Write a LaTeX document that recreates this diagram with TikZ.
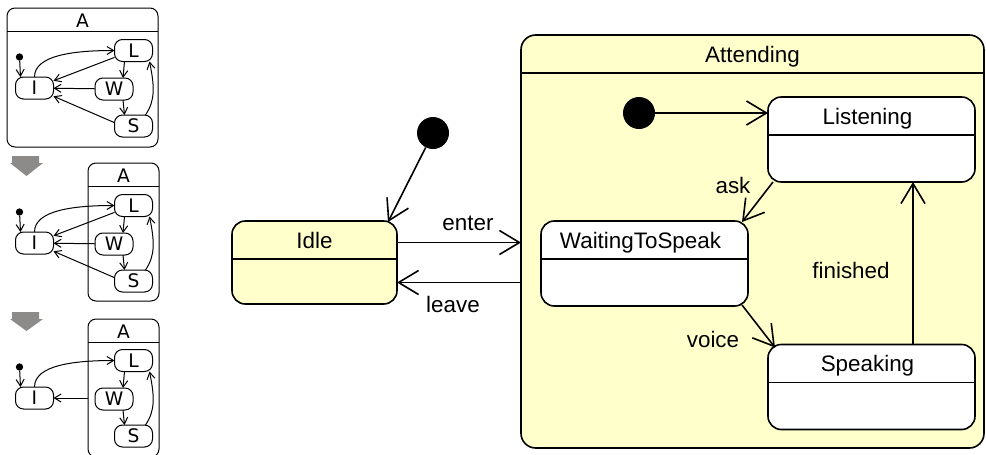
\documentclass[tikz,border=0pt]{standalone}
\usepackage{fontspec}
\setmainfont{Liberation Sans}
\newfontfamily\thumbfont{DejaVu Sans}
\usetikzlibrary{arrows.meta,calc}
\definecolor{stateyellow}{RGB}{255,255,204}
\definecolor{arrowgray}{RGB}{141,139,137}

\begin{document}
\begin{tikzpicture}[x=0.75pt,y=0.75pt,yscale=-1,xscale=1,
  statebox/.style={draw,line width=1.2pt,rounded corners=10pt,fill=stateyellow,inner sep=0pt,outer sep=0pt},
  substate/.style={statebox,fill=white,minimum width=155.25pt,minimum height=63.75pt},
  initdot/.style={circle,fill=black,inner sep=0pt,minimum size=24pt},
  trans/.style={line width=1.2pt,-{Straight Barb[length=15pt,width=18pt]}},
  sep/.style={line width=1.2pt},
  ttl/.style={anchor=base,inner sep=0pt,font=\fontsize{16.8}{20}\selectfont},
  lbl/.style={ttl},
  minibox/.style={draw,line width=0.75pt,rounded corners=6pt,inner sep=0pt,outer sep=0pt},
  ministate/.style={minibox,rounded corners=6pt,minimum width=28.5pt,minimum height=16.5pt,font=\thumbfont\fontsize{14}{16}\selectfont},
  minittl/.style={inner sep=0pt,font=\thumbfont\fontsize{14}{16}\selectfont},
  minidot/.style={circle,fill=black,inner sep=0pt,minimum size=5.5pt},
  minitr/.style={line width=0.75pt,-{Straight Barb[length=5pt,width=6pt]}},
  minisep/.style={line width=0.75pt}]
\useasboundingbox (0,0) rectangle (986,454);

% overview, step 1
\node[minibox,minimum width=113.25pt,minimum height=104.25pt] (a1) at (82.5,77.5) {};
\node[minittl] (a1T) at ($(a1.north)+(0,13)$) {A};
\draw[minisep] ($(a1.north west)+(0,23)$) -- ($(a1.north east)+(0,23)$);
\node[minidot] (d1) at (19.5,57) {};
\node[ministate] (i1) at (34.5,88) {I};
\node[ministate] (l1) at (133.5,50.5) {L};
\node[ministate] (w1) at (114,89) {W};
\node[ministate] (s1) at (133.5,126) {S};
\draw[minitr] (d1) -- ($(i1.north west)+(5,0)$);
\draw[minitr] (i1.north) .. controls +(0,-22) and +(-40,0) .. (l1.west);
\draw[minitr] (l1.200) -- (i1);
\draw[minitr] (w1) -- (i1);
\draw[minitr] (s1.170) -- (i1);
\draw[minitr] ($(l1.south)+(-9,0)$) -- ($(w1.north)+(9,0)$);
\draw[minitr] ($(w1.south)+(9,0)$) -- ($(s1.north)+(-9,0)$);
\draw[minitr] ($(s1.north)+(12,0)$) .. controls +(10,-15) and +(5,25) .. ($(l1.south)+(16,0)$);

\fill[arrowgray] (12,156) -- (39,156) -- (39,163) -- (43,163) -- (26.5,176) -- (10,163) -- (12,163) -- cycle;

% overview, step 2
\node[minibox,minimum width=53.25pt,minimum height=103.5pt] (a2) at (123.5,232) {};
\node[minittl] (a2T) at ($(a2.north)+(0,13)$) {A};
\draw[minisep] ($(a2.north west)+(0,23)$) -- ($(a2.north east)+(0,23)$);
\node[minidot] (d2) at (19.5,212) {};
\node[ministate] (i2) at (34.5,243) {I};
\node[ministate] (l2) at (133.5,205.5) {L};
\node[ministate] (w2) at (114,244) {W};
\node[ministate] (s2) at (133.5,281) {S};
\draw[minitr] (d2) -- ($(i2.north west)+(5,0)$);
\draw[minitr] (i2.north) .. controls +(0,-22) and +(-40,0) .. (l2.west);
\draw[minitr] (l2.200) -- (i2);
\draw[minitr] (w2) -- (i2);
\draw[minitr] (s2.170) -- (i2);
\draw[minitr] ($(l2.south)+(-9,0)$) -- ($(w2.north)+(9,0)$);
\draw[minitr] ($(w2.south)+(9,0)$) -- ($(s2.north)+(-9,0)$);
\draw[minitr] ($(s2.north)+(12,0)$) .. controls +(10,-15) and +(5,25) .. ($(l2.south)+(16,0)$);

\fill[arrowgray] (12,312) -- (39,312) -- (39,319) -- (43,319) -- (26.5,331) -- (10,319) -- (12,319) -- cycle;

% overview, step 3
\node[minibox,minimum width=53.25pt,minimum height=103.5pt] (a3) at (123.5,388) {};
\node[minittl] (a3T) at ($(a3.north)+(0,13)$) {A};
\draw[minisep] ($(a3.north west)+(0,23)$) -- ($(a3.north east)+(0,23)$);
\node[minidot] (d3) at (19.5,367) {};
\node[ministate] (i3) at (34.5,398) {I};
\node[ministate] (l3) at (133.5,360.5) {L};
\node[ministate] (w3) at (114,399) {W};
\node[ministate] (s3) at (133.5,436) {S};
\draw[minitr] (d3) -- ($(i3.north west)+(5,0)$);
\draw[minitr] (i3.north) .. controls +(0,-22) and +(-40,0) .. (l3.west);
\draw[minitr] (i3 -| a3.west) -- (i3);
\draw[minitr] ($(l3.south)+(-9,0)$) -- ($(w3.north)+(9,0)$);
\draw[minitr] ($(w3.south)+(9,0)$) -- ($(s3.north)+(-9,0)$);
\draw[minitr] ($(s3.north)+(12,0)$) .. controls +(10,-15) and +(5,25) .. ($(l3.south)+(16,0)$);

% main statechart
\node[statebox,rounded corners=11pt,minimum width=347.25pt,minimum height=309.75pt] (attending) at (752.5,241.5) {};
\node[ttl] (attendingT) at ($(attending.north)+(0,27)$) {Attending};
\draw[sep] ($(attending.north west)+(0,38)$) -- ($(attending.north east)+(0,38)$);

\node[statebox,minimum width=123.75pt,minimum height=62.25pt] (idle) at (314.5,262.5) {};
\node[ttl] (idleT) at ($(idle.north)+(0,27)$) {Idle};
\draw[sep] ($(idle.north west)+(0,38)$) -- ($(idle.north east)+(0,38)$);

\node[substate] (listening) at (871.5,139.5) {};
\node[ttl] (listeningT) at ($(listening.north)+(-4,27)$) {Listening};
\draw[sep] ($(listening.north west)+(0,38)$) -- ($(listening.north east)+(0,38)$);

\node[substate] (waiting) at (644.5,263.5) {};
\node[ttl] (waitingT) at ($(waiting.north)+(-4,27)$) {WaitingToSpeak};
\draw[sep] ($(waiting.north west)+(0,38)$) -- ($(waiting.north east)+(0,38)$);

\node[substate] (speaking) at (871.5,387) {};
\node[ttl] (speakingT) at ($(speaking.north)+(-4,27)$) {Speaking};
\draw[sep] ($(speaking.north west)+(0,38)$) -- ($(speaking.north east)+(0,38)$);

\node[initdot] (init1) at (433,133) {};
\node[initdot] (init2) at (639,113) {};

\coordinate (enterA) at ($(idle.east)+(0,-20)$);
\coordinate (leaveA) at ($(idle.east)+(0,20)$);
\coordinate (finA) at ($(speaking.north)+(41.5,0)$);

\draw[trans] (init1) -- ($(idle.north east)+(-9,1)$);
\draw[trans] (enterA) -- (enterA -| attending.west);
\draw[trans] (leaveA -| attending.west) -- (leaveA);
\draw[trans] (init2) -- (init2 -| listening.west);
\draw[trans] ($(listening.south west)+(5,0)$) -- ($(waiting.north east)+(-6,1)$);
\draw[trans] ($(waiting.south east)+(-6,-1)$) -- ($(speaking.north west)+(7,3)$);
\draw[trans] (finA) -- (finA |- listening.south);

\node[lbl] (enterL) at (468,230) {enter};
\node[lbl] (leaveL) at (453,312) {leave};
\node[lbl] (askL) at (733,193) {ask};
\node[lbl] (voiceL) at (713,347) {voice};
\node[lbl] (finishedL) at (851,278) {finished};
\end{tikzpicture}
\end{document}
